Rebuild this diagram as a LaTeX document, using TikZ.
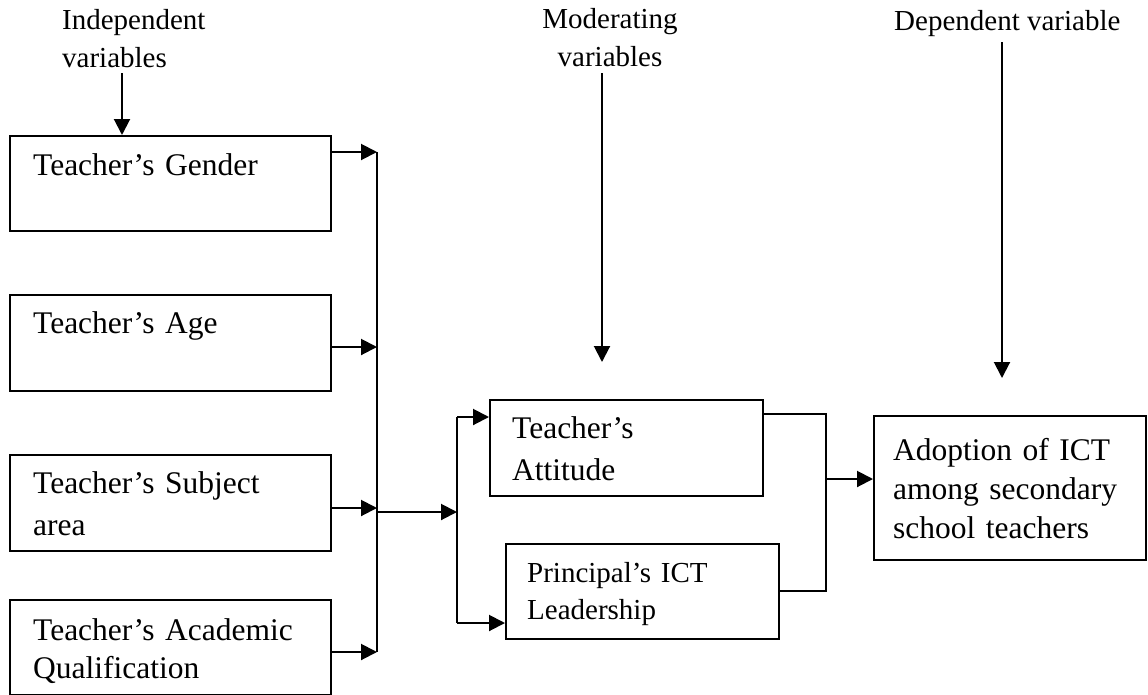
\documentclass[tikz,border=0pt]{standalone}
\usepackage{fontspec}
\setmainfont{Liberation Serif}
\usetikzlibrary{arrows.meta,calc}
\begin{document}
\begin{tikzpicture}[x=1pt,y=-1pt,
  box/.style={draw,line width=1.6pt,inner sep=0pt,anchor=north west},
  bigtxt/.style={anchor=base west,inner sep=0pt,text width=260pt,align=left,font=\fontsize{31.5}{42}\selectfont},
  smalltxt/.style={anchor=base west,inner sep=0pt,text width=260pt,align=left,font=\fontsize{29}{37}\selectfont},
  lbl/.style={inner sep=0pt,font=\fontsize{29}{38.5}\selectfont},
  arr/.style={line width=2pt,-{Triangle[length=16pt,width=16pt]}},
  wire/.style={line width=1.6pt},
  thinwire/.style={line width=1.4pt}]
\useasboundingbox (0,0) rectangle (1148,694);
% boxes
\node[box,minimum width=321pt,minimum height=95pt] (gender) at (9,135) {};
\node[box,minimum width=321pt,minimum height=96pt] (age) at (9,294) {};
\node[box,minimum width=321pt,minimum height=96pt] (subject) at (9,454) {};
\node[box,minimum width=321pt,minimum height=95pt] (qual) at (9,599) {};
\node[box,minimum width=273pt,minimum height=96pt] (att) at (489,399) {};
\node[box,minimum width=273pt,minimum height=95pt] (lead) at (505,543) {};
\node[box,minimum width=272pt,minimum height=144pt] (adopt) at (873,415) {};
% box texts
\node[bigtxt] (tgender) at (33,175) {Teacher’s Gender};
\node[bigtxt] (tage) at (33,333) {Teacher’s Age};
\node[bigtxt] (tsubject) at (33,493) {Teacher’s Subject\\area};
\node[bigtxt,font=\fontsize{31.5}{38}\selectfont] (tqual) at (33,640) {Teacher’s Academic\\Qualification};
\node[bigtxt] (tatt) at (512,438) {Teacher’s\\Attitude};
\node[smalltxt] (tlead) at (527,582) {Principal’s ICT\\Leadership};
\node[bigtxt,font=\fontsize{31.5}{39}\selectfont] (tadopt) at (893,460) {Adoption of ICT\\among secondary\\school teachers};
% header labels
\node[lbl,anchor=base west,text width=200pt,align=left] (indep) at (62,29) {Independent\\variables};
\node[lbl,anchor=base,text width=200pt,align=center] (moder) at (610,28) {Moderating\\variables};
\node[lbl,anchor=base west] (dep) at (894,30) {Dependent variable};
% header arrows
\coordinate (iA) at (122,73);
\draw[arr] (iA) -- (iA |- gender.north);
\coordinate (mA) at (602,73);
\coordinate (mB) at (602,362);
\draw[arr] (mA) -- (mB);
\coordinate (dA) at (1002,42);
\coordinate (dB) at (1002,378);
\draw[arr] (dA) -- (dB);
% bus on the left
\coordinate (b1) at (377,152);
\coordinate (b2) at (377,347);
\coordinate (b3) at (377,508);
\coordinate (b4) at (377,652);
\coordinate (bo) at (377,512);
\draw[wire] (b1) -- (b4);
\draw[arr] (gender.east |- b1) -- (b1);
\draw[arr] (age.east |- b2) -- (b2);
\draw[arr] (subject.east |- b3) -- (b3);
\draw[arr] (qual.east |- b4) -- (b4);
% split
\coordinate (s0) at (457,512);
\coordinate (s1) at (457,417);
\coordinate (s2) at (457,623);
\draw[arr] (bo) -- (s0);
\draw[wire] (s1) -- (s2);
\draw[arr] (s1) -- (att.west |- s1);
\draw[arr] (s2) -- (lead.west |- s2);
% join on the right
\coordinate (j1) at (826,414);
\coordinate (j2) at (826,591);
\coordinate (jo) at (826,479);
\draw[thinwire] (att.east |- j1) -- (j1) -- (j2) -- (lead.east |- j2);
\draw[arr] (jo) -- (adopt.west |- jo);
\end{tikzpicture}
\end{document}
